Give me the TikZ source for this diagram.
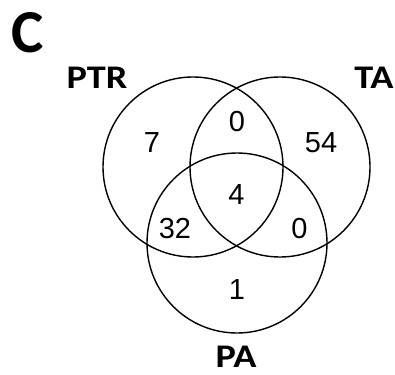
\documentclass[tikz,border=0pt]{standalone}
\usepackage{fontspec}
\setmainfont{Liberation Sans}
\newfontfamily\labelfont[FakeStretch=1.16]{Carlito}
\newfontfamily\panelfont{Carlito}
\begin{document}
\begin{tikzpicture}[x=1pt,y=-1pt,
  setcircle/.style={draw=black,line width=1.4pt},
  count/.style={font=\fontsize{29}{29}\selectfont,inner sep=0pt},
  setname/.style={font=\labelfont\bfseries\fontsize{33}{33}\selectfont,inner sep=0pt}]
\useasboundingbox (0,0) rectangle (395,374);
% the three sets
\draw[setcircle] (193,167) circle (90);
\draw[setcircle] (280,167) circle (90);
\draw[setcircle] (237,243) circle (90);
% panel letter and set names
\node[font=\panelfont\bfseries\fontsize{61}{61}\selectfont,inner sep=0pt] (panel) at (28,33) {C};
\node[setname] (ptr) at (97,77.5) {PTR};
\node[setname] (ta) at (374,77.5) {TA};
\node[setname] (pa) at (236,357) {PA};
% region counts
\node[count] (ptronly) at (152,143) {7};
\node[count] (ptrta) at (237,122) {0};
\node[count] (taonly) at (321,143) {54};
\node[count] (all) at (236.5,195) {4};
\node[count] (ptrpa) at (175,229) {32};
\node[count] (tapa) at (299.5,229) {0};
\node[count] (paonly) at (237,290) {1};
\end{tikzpicture}
\end{document}
